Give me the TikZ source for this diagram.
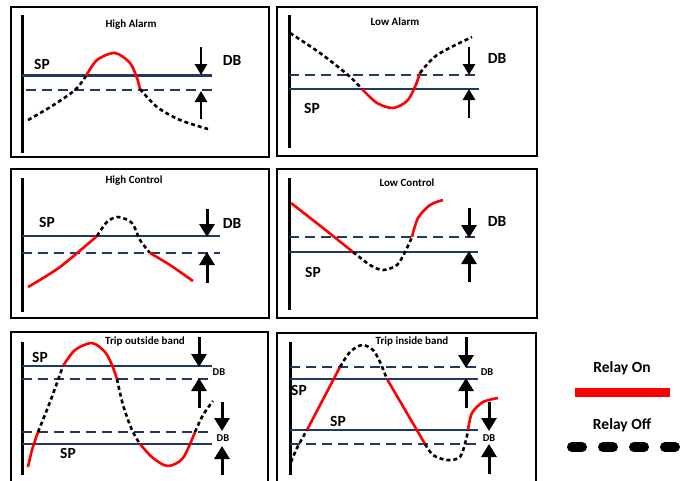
\documentclass[tikz,border=0pt]{standalone}
\usepackage{fontspec}
\setmainfont{Carlito}
\usetikzlibrary{arrows.meta}
\definecolor{spnavy}{HTML}{1F3864}
\definecolor{relayred}{HTML}{FF0000}

\begin{document}
\begin{tikzpicture}[x=1pt,y=-1pt,
  pn/.style={draw=black,line width=2.4pt},
  ax/.style={draw=black,line width=3pt},
  sp/.style={draw=spnavy,line width=2.8pt},
  db/.style={draw=spnavy,line width=2.8pt,dash pattern=on 10pt off 6pt},
  ron/.style={draw=relayred,line width=2.6pt},
  roff/.style={draw=black,line width=2.6pt,dash pattern=on 4pt off 3pt},
  ar/.style={draw=black,line width=2.8pt,-{Triangle[width=12pt,length=11pt]}},
  arb/.style={draw=black,line width=3pt,-{Triangle[width=15pt,length=13pt]}},
  tt/.style={font=\bfseries\fontsize{11}{13}\selectfont},
  lb/.style={font=\bfseries\fontsize{15.5}{17}\selectfont},
  sm/.style={font=\bfseries\fontsize{10.5}{12}\selectfont}
]
\useasboundingbox (0,0) rectangle (689,480);

% panel frames and axes
\draw[pn] (11,7) rectangle (269,157);
\draw[pn] (277,7) rectangle (537,156);
\draw[pn] (11,169) rectangle (269,318);
\draw[pn] (277,169) rectangle (537,318);
\draw[pn] (11,483) -- (11,332) -- (268,332) -- (268,483);
\draw[pn] (277,483) -- (277,333) -- (536,333) -- (536,483);
\draw[ax] (22,15) -- (22,153);
\draw[ax] (289,15) -- (289,148);
\draw[ax] (22,178) -- (22,312);
\draw[ax] (289,178) -- (289,310);
\draw[ax] (22,342) -- (22,475);
\draw[ax] (290,342) -- (290,475);

% High Alarm
\node[tt] (hatitle) at (131,25) {High Alarm};
\node[lb] (hasp) at (42,64) {SP};
\node[lb] (hadb) at (232,60) {DB};
\draw[sp] (22,75.5) -- (212,75.5);
\draw[db] (26,90) -- (212,90);
\draw[ar] (201,47) -- (201,75);
\draw[ar] (201,119) -- (201,91);
\draw[roff] plot[smooth] coordinates {(28,120) (52,106) (75,90) (86,76)};
\draw[ron] plot[smooth] coordinates {(86,76) (97,60) (115,53) (130,63) (137,78) (140,89)};
\draw[roff] plot[smooth] coordinates {(140,89) (157,107) (180,120) (208,129)};

% Low Alarm
\node[tt] (latitle) at (395,22) {Low Alarm};
\node[lb] (lasp) at (312,108) {SP};
\node[lb] (ladb) at (497,58) {DB};
\draw[db] (289,75) -- (477,75);
\draw[sp] (289,89) -- (479,89);
\draw[ar] (469,47) -- (469,75);
\draw[ar] (469,118) -- (469,89);
\draw[roff] plot[smooth] coordinates {(290,33) (320,53) (348,75) (362,89)};
\draw[ron] plot[smooth] coordinates {(362,89) (377,103) (393,108) (407,101) (415,87) (420,73)};
\draw[roff] plot[smooth] coordinates {(420,73) (437,55) (472,37)};

% High Control
\node[tt] (hctitle) at (134,181) {High Control};
\node[lb] (hcsp) at (47,222) {SP};
\node[lb] (hcdb) at (232,223) {DB};
\draw[sp] (22,236) -- (220,236);
\draw[db] (22,253) -- (220,253);
\draw[arb] (207,209) -- (207,237);
\draw[arb] (207,283) -- (207,252);
\draw[ron] plot[smooth] coordinates {(28,287) (60,267) (97,236)};
\draw[roff] plot[smooth] coordinates {(97,236) (107,222) (118,217) (132,223) (140,240) (150,253)};
\draw[ron] plot[smooth] coordinates {(150,253) (170,265) (193,281)};

% Low Control
\node[tt] (lctitle) at (407,183) {Low Control};
\node[lb] (lcsp) at (313,272) {SP};
\node[lb] (lcdb) at (497,221) {DB};
\draw[db] (289,237) -- (478,237);
\draw[sp] (289,252) -- (478,252);
\draw[arb] (469,208) -- (469,238);
\draw[arb] (469,282) -- (469,251);
\draw[ron] plot[smooth] coordinates {(291,203) (323,228) (353,252)};
\draw[roff] plot[smooth] coordinates {(353,252) (370,265) (383,270) (397,265) (405,252) (412,237)};
\draw[ron] plot[smooth] coordinates {(412,237) (418,218) (430,205) (443,200)};

% Trip outside band
\node[tt] (totitle) at (145,342) {Trip outside band};
\node[lb] (tospu) at (40,357) {SP};
\node[lb] (tospl) at (68,453) {SP};
\node[sm] (todbu) at (219,372) {DB};
\node[sm] (todbl) at (223,438) {DB};
\draw[sp] (22,366) -- (212,366);
\draw[db] (22,379) -- (213,379);
\draw[db] (22,432) -- (213,432);
\draw[sp] (22,444) -- (212,444);
\draw[arb] (199,337) -- (199,367);
\draw[arb] (199,408) -- (199,378);
\draw[arb] (222,402) -- (222,431);
\draw[arb] (222,475) -- (222,446);
\draw[ron] plot[smooth] coordinates {(28,467) (32,450) (38,432)};
\draw[roff] plot[smooth] coordinates {(38,432) (50,402) (63,366)};
\draw[ron] plot[smooth] coordinates {(63,366) (75,350) (92,343) (105,352) (112,365) (117,379)};
\draw[roff] plot[smooth] coordinates {(117,379) (123,405) (132,430) (140,444)};
\draw[ron] plot[smooth] coordinates {(140,444) (153,458) (168,466) (183,458) (195,432)};
\draw[roff] plot[smooth] coordinates {(195,432) (203,415) (213,401)};

% Trip inside band
\node[tt] (tititle) at (412,342) {Trip inside band};
\node[lb] (tispu) at (299,390) {SP};
\node[lb] (tispl) at (338,421) {SP};
\node[sm] (tidbu) at (487,372) {DB};
\node[sm] (tidbl) at (489,438) {DB};
\draw[db] (290,367) -- (478,367);
\draw[sp] (290,379) -- (478,379);
\draw[sp] (290,430) -- (478,430);
\draw[db] (290,444) -- (480,444);
\draw[arb] (466,337) -- (466,368);
\draw[arb] (466,408) -- (466,378);
\draw[arb] (489,402) -- (489,431);
\draw[arb] (489,474) -- (489,444);
\draw[roff] plot[smooth] coordinates {(291,462) (297,448) (307,430)};
\draw[ron] (307,430) -- (340,367);
\draw[roff] plot[smooth] coordinates {(340,367) (350,352) (362,345) (373,350) (380,362) (387,379)};
\draw[ron] (387,379) -- (425,444);
\draw[roff] plot[smooth] coordinates {(425,444) (433,455) (447,460) (460,457) (466,440) (468,430)};
\draw[ron] plot[smooth] coordinates {(468,430) (472,413) (483,402) (498,398)};

% legend
\node[lb] (onlabel) at (622,368) {Relay On};
\coordinate (onl) at (575,392);
\coordinate (onr) at (670,392);
\draw[draw=relayred,line width=9pt] (onl) -- (onr);
\node[lb] (offlabel) at (622,425) {Relay Off};
\coordinate (offl) at (572,447);
\coordinate (offr) at (676,447);
\draw[draw=black,line width=10pt,line cap=round,dash pattern=on 10pt off 21pt] (offl) -- (offr);
\end{tikzpicture}
\end{document}
